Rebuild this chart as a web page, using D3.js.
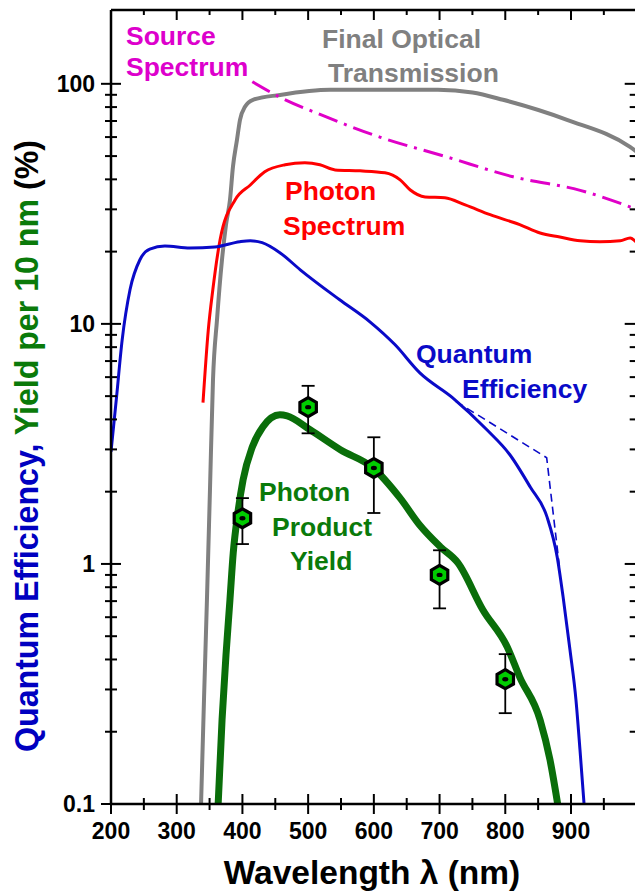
<!DOCTYPE html>
<html>
<head>
<meta charset="utf-8">
<script src="https://cdn.jsdelivr.net/npm/d3@7"></script>
<style>
  html, body { margin: 0; padding: 0; background: #fff; }
  svg { display: block; font-family: "Liberation Sans", Arial, sans-serif; font-weight: bold; }
</style>
</head>
<body>
<svg id="chart" width="635" height="894"></svg>
<script>
// Wavelength axis ticks and labels
const xMajorTicks = [200, 300, 400, 500, 600, 700, 800, 900, 1000];
const xTickLabels = ["200", "300", "400", "500", "600", "700", "800", "900"];
const yMajorTicks = [0.1, 1, 10, 100];
const yTickLabels = ["0.1", "1", "10", "100"];

// Final optical transmission (%)
const transNm  = [337, 341.5, 346, 350.6, 355.2, 361.3, 368.9, 375, 381.1, 385.6, 391.7, 396.3, 403.9, 416.1, 457.2, 533.3, 600, 697.6, 750, 796.5, 893.9, 989.8, 1000];
const transVal = [0.099, 0.271, 0.708, 2.03, 5.84, 10.4, 18.5, 25.9, 32.9, 45.1, 58.4, 70.8, 80.2, 85.8, 89.9, 94.4, 94.4, 94.4, 92, 85.8, 70.8, 54.6, 52.1];

// Source spectrum (relative %)
const sourceNm  = [415, 457, 521, 609, 711, 812, 914, 1000];
const sourceVal = [102, 88, 74, 60, 49.6, 41, 36, 30];

// Photon spectrum (%)
const photonNm  = [340, 348, 355, 366, 389, 412, 434, 465, 495, 518, 541, 579, 617, 640, 655, 678, 708, 739, 777, 822, 853, 883, 914, 944, 975, 990, 1000];
const photonVal = [4.7, 9.4, 13.9, 22.4, 32.9, 37.9, 43, 46, 46.9, 46, 43.8, 43.4, 42.6, 39.8, 36.2, 33.8, 33.5, 31.3, 28.5, 25.9, 23.9, 23, 22.2, 22, 22.2, 22.8, 21.8];

// Quantum efficiency (%)
const qeNm  = [200, 208, 217, 229, 244, 259, 282, 320, 358, 396, 412, 430, 457, 488, 548, 594, 632, 670, 720, 772, 807, 838, 863.5, 879, 888, 898.5, 907.6, 913.7, 920];
const qeVal = [2.93, 4.82, 8.58, 13.9, 18.5, 20.5, 21.1, 20.7, 20.9, 22.0, 22.2, 21.8, 19.8, 16.8, 12.6, 10.2, 8.2, 6.25, 4.92, 3.62, 2.85, 2.09, 1.57, 1.07, 0.729, 0.438, 0.271, 0.168, 0.099];

// Quantum efficiency, alternative red-edge (dashed)
const qeAltNm  = [725, 863, 883];
const qeAltVal = [4.75, 2.77, 0.944];

// Photon product yield per 10 nm (%)
const yieldNm  = [363, 369, 375, 381, 386, 393, 401, 415, 431, 457, 468, 503, 549, 599, 640, 670, 701, 728, 766, 803, 822, 853, 868, 880];
const yieldVal = [0.099, 0.224, 0.418, 0.708, 1.11, 1.63, 2.24, 3.07, 3.72, 4.18, 4.14, 3.62, 2.99, 2.51, 1.88, 1.45, 1.18, 1.01, 0.643, 0.451, 0.338, 0.224, 0.153, 0.099];

// Measured yields with error bars
const measNm   = [400, 500, 600, 700, 800];
const measVal  = [1.55, 4.50, 2.51, 0.90, 0.331];
const measHigh = [1.88, 5.52, 3.37, 1.14, 0.421];
const measLow  = [1.21, 3.50, 1.63, 0.653, 0.239];

const svg = d3.select("#chart");
const pL = 111, pR = 636.7, pT = 10, pB = 804;

const x = d3.scaleLinear().domain([200, 1000]).range([pL, pR]);
const y = d3.scaleLog().domain([0.1, 203]).range([pB, pT]);

svg.append("defs").append("clipPath").attr("id", "plotClip")
  .append("rect").attr("x", pL).attr("y", pT).attr("width", pR - pL).attr("height", pB - pT);

const plot = svg.append("g").attr("clip-path", "url(#plotClip)");

function zip(a, b) { return a.map((d, i) => [d, b[i]]); }
const line = d3.line().x(d => x(d[0])).y(d => y(d[1])).curve(d3.curveMonotoneX);

const COL = {
  gray: "#808080", magenta: "#e000c8", red: "#ff0000",
  blue: "#0a0ac8", green: "#0a6e0a", greenFill: "#00cc00"
};

plot.append("path").attr("d", line(zip(transNm, transVal)))
  .attr("fill", "none").attr("stroke", COL.gray).attr("stroke-width", 4);

plot.append("path").attr("d", line(zip(sourceNm, sourceVal)))
  .attr("fill", "none").attr("stroke", COL.magenta).attr("stroke-width", 3)
  .attr("stroke-dasharray", "20,7,3,7");

plot.append("path").attr("d", line(zip(photonNm, photonVal)))
  .attr("fill", "none").attr("stroke", COL.red).attr("stroke-width", 3);

plot.append("path").attr("d", d3.line().x(d => x(d[0])).y(d => y(d[1]))(zip(qeAltNm, qeAltVal)))
  .attr("fill", "none").attr("stroke", COL.blue).attr("stroke-width", 1.6)
  .attr("stroke-dasharray", "8,5");

plot.append("path").attr("d", line(zip(qeNm, qeVal)))
  .attr("fill", "none").attr("stroke", COL.blue).attr("stroke-width", 3);

plot.append("path").attr("d", line(zip(yieldNm, yieldVal)))
  .attr("fill", "none").attr("stroke", COL.green).attr("stroke-width", 7)
  .attr("stroke-linejoin", "round");

// error bars
const err = plot.append("g").attr("stroke", "#000").attr("stroke-width", 1.8);
measNm.forEach((n, i) => {
  const cx = x(n);
  err.append("line").attr("x1", cx).attr("x2", cx).attr("y1", y(measHigh[i])).attr("y2", y(measLow[i]));
  [measHigh[i], measLow[i]].forEach(v => {
    err.append("line").attr("x1", cx - 6.5).attr("x2", cx + 6.5).attr("y1", y(v)).attr("y2", y(v));
  });
});

// hexagonal markers
const hexR = 9.5;
const hexPts = d3.range(6).map(k => {
  const a = Math.PI / 2 + k * Math.PI / 3;
  return [hexR * Math.cos(a), hexR * Math.sin(a)];
});
const marks = plot.append("g");
measNm.forEach((n, i) => {
  const g = marks.append("g").attr("transform", `translate(${x(n)},${y(measVal[i])})`);
  g.append("polygon").attr("points", hexPts.map(p => p.join(",")).join(" "))
    .attr("fill", COL.greenFill).attr("stroke", "#000").attr("stroke-width", 3.2)
    .attr("stroke-linejoin", "miter");
  g.append("ellipse").attr("rx", 3).attr("ry", 2.2).attr("fill", "#000");
});

// frame
const axisG = svg.append("g").attr("stroke", "#000").attr("fill", "none");
axisG.append("line").attr("x1", pL).attr("x2", pR).attr("y1", pB).attr("y2", pB).attr("stroke-width", 2.5);
axisG.append("line").attr("x1", pL).attr("x2", pR).attr("y1", pT).attr("y2", pT).attr("stroke-width", 2.5);
axisG.append("line").attr("x1", pL).attr("x2", pL).attr("y1", pT).attr("y2", pB).attr("stroke-width", 2.5);
axisG.append("line").attr("x1", pR).attr("x2", pR).attr("y1", pT).attr("y2", pB).attr("stroke-width", 2.5);

// x ticks: bottom crossing, top inward
const xMinor = d3.range(250, 1000, 100);
xMajorTicks.forEach(t => {
  axisG.append("line").attr("x1", x(t)).attr("x2", x(t)).attr("y1", pB - 10).attr("y2", pB + 10).attr("stroke-width", 2);
  axisG.append("line").attr("x1", x(t)).attr("x2", x(t)).attr("y1", pT).attr("y2", pT + 10).attr("stroke-width", 2);
});
xMinor.forEach(t => {
  axisG.append("line").attr("x1", x(t)).attr("x2", x(t)).attr("y1", pB - 6).attr("y2", pB + 6).attr("stroke-width", 2);
  axisG.append("line").attr("x1", x(t)).attr("x2", x(t)).attr("y1", pT).attr("y2", pT + 5).attr("stroke-width", 2);
});

// y ticks: left crossing, right inward
const yMinor = [];
[0.1, 1, 10, 100].forEach(d => { for (let k = 2; k <= 9; k++) if (d * k < 200) yMinor.push(d * k); });
yMajorTicks.forEach(t => {
  axisG.append("line").attr("x1", pL - 10).attr("x2", pL + 10).attr("y1", y(t)).attr("y2", y(t)).attr("stroke-width", 2);
  axisG.append("line").attr("x1", pR - 12).attr("x2", pR).attr("y1", y(t)).attr("y2", y(t)).attr("stroke-width", 2);
});
yMinor.forEach(t => {
  axisG.append("line").attr("x1", pL - 6).attr("x2", pL + 6).attr("y1", y(t)).attr("y2", y(t)).attr("stroke-width", 2);
  axisG.append("line").attr("x1", pR - 7).attr("x2", pR).attr("y1", y(t)).attr("y2", y(t)).attr("stroke-width", 2);
});

// tick labels
svg.append("g").selectAll("text").data(xTickLabels).join("text")
  .attr("x", d => x(+d)).attr("y", 839).attr("text-anchor", "middle")
  .attr("font-size", 23).attr("fill", "#000").text(d => d);
svg.append("g").selectAll("text").data(yTickLabels).join("text")
  .attr("x", 95).attr("y", d => y(+d)).attr("dy", "0.35em").attr("text-anchor", "end")
  .attr("font-size", 23).attr("fill", "#000").text(d => d);

// axis titles
svg.append("text").attr("x", 372).attr("y", 884).attr("text-anchor", "middle")
  .attr("font-size", 33.5).attr("fill", "#000").text("Wavelength λ (nm)");

const yt = svg.append("text").attr("transform", "translate(38,446) rotate(-90)")
  .attr("text-anchor", "middle").attr("font-size", 34)
  .attr("textLength", 612).attr("lengthAdjust", "spacingAndGlyphs");
yt.append("tspan").attr("fill", "#0000c0").text("Quantum Efficiency, ");
yt.append("tspan").attr("fill", "#0a7a0a").text("Yield per 10 nm ");
yt.append("tspan").attr("fill", "#000").text("(%)");

// curve labels
function label(lines, color, size) {
  lines.forEach(l => {
    svg.append("text").attr("x", l[0]).attr("y", l[1]).attr("font-size", size)
      .attr("fill", color).attr("text-anchor", l[3] || "start").text(l[2]);
  });
}
label([[126, 45, "Source"], [126, 76, "Spectrum"]], "#dd00cc", 26.5);
label([[322, 48, "Final Optical"], [328, 82, "Transmission"]], "#808080", 26.5);
label([[285, 200, "Photon"], [283, 235, "Spectrum"]], "#ff0000", 26.5);
label([[416, 363, "Quantum"], [462, 398, "Efficiency"]], "#0a0ac8", 26.5);
label([[259, 501, "Photon"], [272, 536, "Product"], [290, 570, "Yield"]], "#0a7a0a", 26.5);
</script>
</body>
</html>
